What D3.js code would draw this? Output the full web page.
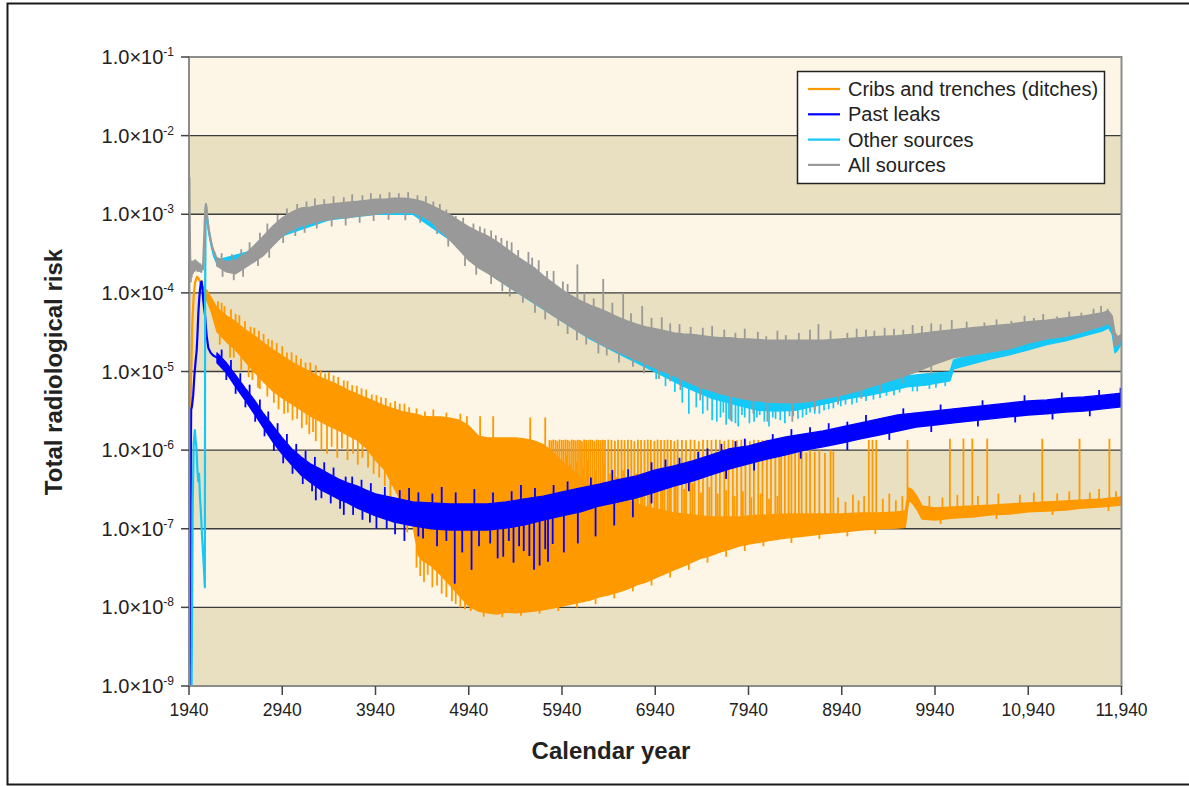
<!DOCTYPE html>
<html><head><meta charset="utf-8">
<script src="https://cdn.jsdelivr.net/npm/d3@7"></script>
<style>body{margin:0;background:#fff;}svg{display:block;font-family:"Liberation Sans",Arial,sans-serif;}</style>
</head><body><svg id="c" width="1189" height="786"></svg>
<script>
// ---------------- DATA ----------------
const xTicks = [1940,2940,3940,4940,5940,6940,7940,8940,9940,10940,11940];
const xTickLabels = ["1940","2940","3940","4940","5940","6940","7940","8940","9940","10,940","11,940"];
const yExponents = [-1,-2,-3,-4,-5,-6,-7,-8,-9];
const seriesNames = ["Cribs and trenches (ditches)","Past leaks","Other sources","All sources"];
const seriesColors = ["#ff9900","#0000ff","#14c8f8","#999999"];

// Cribs and trenches: early line [year,value], noisy band [year,lo,hi], spikes [year,value]
const cribsEarly = [[1952,1e-9],[1957,5e-7],[1963,8e-6],[1975,4e-5],[1990,9e-5],[2005,1.35e-4],[2025,1.6e-4],[2045,1.5e-4],[2070,1.3e-4],[2095,1.15e-4],[2115,1.05e-4],[2130,9.5e-5]];
const cribsBand = [[2130,8.1e-5,1.09e-4],[2180,5.7e-5,8.6e-5],[2240,3.2e-5,6.45e-5],[2340,2.4e-5,5.1e-5],[2440,1.88e-5,4.3e-5],[2540,1.36e-5,3.4e-5],[2640,9.9e-6,2.85e-5],[2740,7.4e-6,2.3e-5],[2840,5.66e-6,1.88e-5],[2940,4.6e-6,1.58e-5],[3040,3.9e-6,1.32e-5],[3140,3.25e-6,1.14e-5],[3240,2.72e-6,9.9e-6],[3340,2.35e-6,8.5e-6],[3440,2.03e-6,7.6e-6],[3540,1.8e-6,6.75e-6],[3640,1.56e-6,5.8e-6],[3740,1.35e-6,5.2e-6],[3840,1.07e-6,4.6e-6],[3940,7.5e-7,4.1e-6],[4040,5.6e-7,3.65e-6],[4140,3.3e-7,3.35e-6],[4240,2.0e-7,3.06e-6],[4340,1.12e-7,2.9e-6],[4400,4.6e-8,2.8e-6],[4440,4.0e-8,2.7e-6],[4540,3.36e-8,2.65e-6],[4640,2.58e-8,2.65e-6],[4740,1.93e-8,2.55e-6],[4840,1.4e-8,2.4e-6],[4940,1.04e-8,2.03e-6],[5040,9.0e-9,1.52e-6],[5140,8.5e-9,1.43e-6],[5240,8.2e-9,1.43e-6],[5340,8.7e-9,1.43e-6],[5440,8.5e-9,1.43e-6],[5540,8.7e-9,1.39e-6],[5640,9.0e-9,1.31e-6],[5740,9.3e-9,1.17e-6],[5840,9.8e-9,9.5e-7],[5940,1.04e-8,7.1e-7],[6040,1.1e-8,5.6e-7],[6140,1.17e-8,4.55e-7],[6240,1.24e-8,3.83e-7],[6340,1.36e-8,3.3e-7],[6440,1.44e-8,2.85e-7],[6540,1.57e-8,2.54e-7],[6640,1.71e-8,2.26e-7],[6740,1.93e-8,2.07e-7],[6840,2.1e-8,1.9e-7],[6940,2.37e-8,1.79e-7],[7040,2.66e-8,1.68e-7],[7140,2.99e-8,1.59e-7],[7240,3.36e-8,1.54e-7],[7340,3.78e-8,1.5e-7],[7440,4.25e-8,1.46e-7],[7540,4.6e-8,1.41e-7],[7640,5.1e-8,1.41e-7],[7740,5.5e-8,1.41e-7],[7840,6.0e-8,1.41e-7],[7940,6.4e-8,1.46e-7],[8140,7.0e-8,1.5e-7],[8340,7.6e-8,1.54e-7],[8540,8.1e-8,1.54e-7],[8740,8.6e-8,1.54e-7],[8940,9.1e-8,1.54e-7],[9140,9.65e-8,1.59e-7],[9340,1.0e-7,1.59e-7],[9540,1.02e-7,1.64e-7],[9620,1.04e-7,1.68e-7],[9660,2.33e-7,3.3e-7],[9700,2.1e-7,3.1e-7],[9750,1.73e-7,2.54e-7],[9800,1.33e-7,1.95e-7],[9940,1.29e-7,1.84e-7],[10140,1.37e-7,1.9e-7],[10340,1.41e-7,1.95e-7],[10540,1.5e-7,2.0e-7],[10740,1.54e-7,2.07e-7],[10940,1.64e-7,2.13e-7],[11140,1.68e-7,2.2e-7],[11340,1.73e-7,2.26e-7],[11540,1.84e-7,2.32e-7],[11740,1.9e-7,2.4e-7],[11940,2.0e-7,2.54e-7]];
const cribsSpikes = [
[2250,7.8e-5],[2290,7.5e-5],[2320,6.8e-5],[2390,6.2e-5],[2440,5.4e-5],[2480,5.2e-5],[2540,4.4e-5],[2600,3.7e-5],[2640,3.6e-5],[2690,3.3e-5],[2740,3.0e-5],[2790,2.6e-5],[2830,2.5e-5],[2880,2.3e-5],[2940,2.1e-5],[2990,1.75e-5],[3040,1.75e-5],[3090,1.6e-5],[3140,1.45e-5],[3190,1.3e-5],[3240,1.3e-5],[3300,1.2e-5],[3350,1.05e-5],[3400,9.4e-6],[3440,9.8e-6],[3490,8.9e-6],[3540,8.5e-6],[3600,7.7e-6],[3640,7.6e-6],[3690,6.7e-6],[3740,6.6e-6],[3790,6.1e-6],[3840,5.9e-6],[3900,5.1e-6],[3950,5.0e-6],[4000,4.7e-6],[4050,4.6e-6],[4100,4.0e-6],[4150,4.2e-6],[4200,3.9e-6],[4250,3.9e-6],[4300,3.5e-6],
[2270,2.2e-5],[2380,1.5e-5],[2420,1.5e-5],[2500,1.05e-5],[2580,8.5e-6],[2620,7.8e-6],[2680,6.2e-6],[2700,6e-6],[2780,4.8e-6],[2850,4.0e-6],[2900,3.3e-6],[2960,2.9e-6],[3000,3.0e-6],[3050,2.4e-6],[3100,2.5e-6],[3150,1.9e-6],[3200,2.1e-6],[3230,1.6e-6],[3270,1.7e-6],[3300,1.3e-6],[3360,1.0e-6],[3420,9e-7],[3470,1.1e-6],[3530,8e-7],[3580,1.05e-6],[3640,7.5e-7],[3700,9e-7],[3750,6.5e-7],[3800,8e-7],[3860,6e-7],[3920,5e-7],[3980,4.5e-7],[4040,3.5e-7],[4100,2.5e-7],[4190,1.5e-7],[4280,9e-8],
[4380,3.2e-8],[4420,2.5e-8],[4460,2.1e-8],[4500,2.6e-8],[4550,1.8e-8],[4600,1.9e-8],[4650,1.5e-8],[4700,1.35e-8],[4760,1.2e-8],[4800,1.1e-8],[4850,1.0e-8],[4900,9.5e-9],[4960,9.0e-9],
[5100,7.6e-9],[5300,7.5e-9],[5500,7.8e-9],[5700,8.3e-9],[5900,9e-9],[6100,1.0e-8],[6300,1.1e-8],[6500,1.3e-8],[6700,1.6e-8],[6900,1.9e-8],[7100,2.4e-8],[7300,3.0e-8],[7500,3.7e-8],[7700,4.4e-8],[7900,5.2e-8],[8100,6.0e-8],[8400,6.6e-8],[8700,7.4e-8],[9000,8.0e-8],[9300,8.6e-8],[10000,1.15e-7],[10600,1.33e-7],[11200,1.5e-7],[11800,1.68e-7],
[4380,3.4e-6],[4470,3.1e-6],[4560,3.3e-6],[4700,3.0e-6],[4850,2.9e-6],[4920,2.7e-6],[5062,2.7e-6],[5202,2.7e-6],[5599,2.6e-6],[5760,2.6e-6],
[5805,1.35e-6],[5826,1.33e-6],[5846,1.36e-6],[5870,1.35e-6],[5891,1.3e-6],[5912,1.36e-6],[5936,1.35e-6],[5957,1.34e-6],[5979,1.36e-6],[6001,1.35e-6],[6022,1.31e-6],[6045,1.36e-6],[6066,1.35e-6],[6088,1.33e-6],[6111,1.36e-6],[6133,1.35e-6],[6154,1.3e-6],[6177,1.36e-6],[6199,1.35e-6],[6222,1.34e-6],[6243,1.36e-6],[6266,1.35e-6],[6288,1.3e-6],[6311,1.36e-6],[6333,1.35e-6],[6356,1.34e-6],[6379,1.36e-6],[6401,1.35e-6],
[6436,1.36e-6],[6470,1.35e-6],[6507,1.31e-6],[6541,1.36e-6],[6578,1.35e-6],[6611,1.34e-6],[6647,1.36e-6],[6683,1.35e-6],[6716,1.3e-6],[6754,1.36e-6],[6788,1.35e-6],[6825,1.34e-6],[6860,1.36e-6],[6893,1.35e-6],[6931,1.31e-6],[6965,1.36e-6],[7001,1.35e-6],[7038,1.34e-6],[7072,1.36e-6],[7108,1.35e-6],[7145,1.3e-6],[7180,1.36e-6],
[7226,1.35e-6],[7270,1.34e-6],[7318,1.36e-6],[7361,1.35e-6],[7407,1.3e-6],[7452,1.36e-6],[7499,1.35e-6],[7543,1.34e-6],[7590,1.36e-6],[7633,1.35e-6],[7681,1.31e-6],[7725,1.36e-6],[7772,1.35e-6],[7816,1.34e-6],[7863,1.36e-6],[7907,1.35e-6],[7954,1.3e-6],[7998,1.36e-6],[8045,1.35e-6],[8090,1.34e-6],[8138,1.36e-6],[8181,1.35e-6],[8228,1.31e-6],[8270,1.35e-6],
[5815,9e-7],[5858,8e-7],[5925,7.5e-7],[5990,8.5e-7],[6035,6.5e-7],[6100,7e-7],[6165,6e-7],[6210,7.5e-7],[6300,5.5e-7],[6390,6.5e-7],[6455,5e-7],[6525,4.5e-7],[6595,5.5e-7],[6665,4.2e-7],[6735,5e-7],[6805,3.8e-7],[6880,4.5e-7],[6950,3.6e-7],[7020,4.2e-7],[7090,3.3e-7],[7160,4e-7],[7250,3.2e-7],[7340,3.8e-7],[7430,2.9e-7],[7520,3.4e-7],[7610,2.8e-7],[7700,3.1e-7],[7790,2.6e-7],[7880,3.0e-7],[7970,2.5e-7],[8070,2.8e-7],[8160,2.4e-7],[8250,2.6e-7],
[8290,1.0e-6],[8330,9.5e-7],[8370,1.0e-6],[8400,9.2e-7],[8440,1.0e-6],[8480,9.6e-7],[8510,1.0e-6],[8560,9.3e-7],[8600,1.0e-6],[8650,9.5e-7],[8700,1.0e-6],[8760,9.2e-7],[8820,1.0e-6],[8850,9.6e-7],
[9230,1.35e-6],[9270,1.35e-6],[9310,1.35e-6],[9645,1.35e-6],[10100,1.4e-6],[10245,1.4e-6],[10340,1.4e-6],[10500,1.4e-6],[11090,1.4e-6],[11490,1.4e-6],[11810,1.4e-6],
[8900,2.5e-7],[8980,2.2e-7],[9060,2.7e-7],[9120,2.3e-7],[9180,2.6e-7],[9380,2.4e-7],[9450,2.8e-7],[9520,2.3e-7],[9590,2.6e-7],
[9880,2.6e-7],[10020,2.5e-7],[10180,2.7e-7],[10400,2.6e-7],[10620,2.8e-7],[10850,2.7e-7],[11000,2.9e-7],[11250,2.8e-7],[11380,3.0e-7],[11600,2.9e-7],[11700,3.2e-7],[11880,3.0e-7]];

// Past leaks
const leaksEarly = [[1948,1e-9],[1953,1e-8],[1958,4e-7],[1963,3.3e-6],[1972,3.6e-6],[1985,5e-6],[1998,9e-6],[2012,1.4e-5],[2023,1.9e-5],[2032,3.2e-5],[2040,5.5e-5],[2050,8.5e-5],[2058,1.1e-4],[2068,1.35e-4],[2076,1.4e-4],[2085,1.1e-4],[2093,8e-5],[2102,6.5e-5],[2112,5.2e-5],[2122,3.6e-5],[2130,2.8e-5],[2147,2.0e-5],[2170,1.75e-5],[2200,1.6e-5],[2240,1.5e-5]];
const leaksBand = [[2240,1.29e-5,1.72e-5],[2340,9.6e-6,1.29e-5],[2440,6.4e-6,9.0e-6],[2540,4.35e-6,6.2e-6],[2640,2.9e-6,4.35e-6],[2740,1.92e-6,2.9e-6],[2840,1.27e-6,2.03e-6],[2940,8.9e-7,1.43e-6],[3040,6.5e-7,1.04e-6],[3140,4.85e-7,8.2e-7],[3240,3.9e-7,6.7e-7],[3340,3.2e-7,5.8e-7],[3440,2.77e-7,5.0e-7],[3540,2.4e-7,4.3e-7],[3640,2.13e-7,3.83e-7],[3740,1.84e-7,3.5e-7],[3840,1.64e-7,3.1e-7],[3940,1.46e-7,2.77e-7],[4140,1.22e-7,2.47e-7],[4340,1.09e-7,2.19e-7],[4540,1.0e-7,2.13e-7],[4740,9.65e-8,2.07e-7],[4940,9.65e-8,2.07e-7],[5140,9.65e-8,2.07e-7],[5340,1.02e-7,2.19e-7],[5540,1.12e-7,2.4e-7],[5740,1.29e-7,2.6e-7],[5940,1.46e-7,2.93e-7],[6140,1.64e-7,3.3e-7],[6340,1.95e-7,3.7e-7],[6540,2.19e-7,4.2e-7],[6740,2.47e-7,4.7e-7],[6940,2.93e-7,5.6e-7],[7140,3.5e-7,6.3e-7],[7340,4.05e-7,7.3e-7],[7540,4.85e-7,8.7e-7],[7740,5.8e-7,1.04e-6],[7940,6.7e-7,1.13e-6],[8140,7.7e-7,1.31e-6],[8340,8.7e-7,1.47e-6],[8540,1.0e-6,1.61e-6],[8740,1.1e-6,1.75e-6],[8940,1.23e-6,1.97e-6],[9140,1.39e-6,2.22e-6],[9340,1.56e-6,2.5e-6],[9540,1.75e-6,2.8e-6],[9740,1.97e-6,2.97e-6],[9940,2.09e-6,3.15e-6],[10140,2.22e-6,3.35e-6],[10340,2.36e-6,3.55e-6],[10540,2.5e-6,3.76e-6],[10740,2.65e-6,3.98e-6],[10940,2.8e-6,4.22e-6],[11140,2.9e-6,4.35e-6],[11340,3.06e-6,4.6e-6],[11540,3.15e-6,4.75e-6],[11740,3.35e-6,5.0e-6],[11940,3.55e-6,5.3e-6]];
const leaksSpikes = [[3300,2.3e-7],[3600,1.5e-7],[3950,1.0e-7],[4150,8.5e-8],[4250,7e-8],[4400,8e-8],[4450,7.5e-8],[4600,6e-8],[4700,7e-8],[4790,2.0e-8],[4870,5e-8],[4970,3.0e-8],[5050,6e-8],[5170,6.5e-8],[5250,4.2e-8],[5310,4.4e-8],[5370,7e-8],[5420,3.7e-8],[5480,6e-8],[5530,5.2e-8],[5590,4.5e-8],[5640,3.0e-8],[5700,3.4e-8],[5760,5.5e-8],[5790,3.8e-8],[5840,6.4e-8],[5960,5.0e-8],[6110,6.5e-8],[6300,8.0e-8],[6500,1.1e-7],[6700,1.4e-7],
[3620,4.6e-7],[4300,3.3e-7],[4650,3.4e-7],[5000,3.2e-7],[5500,3.6e-7],[6000,4.0e-7],[6480,5.6e-7],[6900,7e-7],[7200,8e-7],[7500,1.05e-6],[7800,1.3e-6],[8200,1.6e-6],[8600,1.95e-6],[9000,2.3e-6],
[2290,1.9e-5],[2390,1.4e-5],[2490,9.5e-6],[2590,6.8e-6],[2700,4.4e-6],[2790,3.1e-6],[2890,2.2e-6],[2990,1.6e-6],[3090,1.2e-6],[3190,9.8e-7],[3290,8.2e-7],[3390,7e-7],[3490,6.0e-7],[3690,4.6e-7],[3790,4.2e-7],[3890,3.8e-7],[4040,3.4e-7],[4200,3.1e-7],[4400,2.9e-7],[4550,2.8e-7],[4800,2.9e-7],[5200,2.9e-7],[5400,3.0e-7],[5650,3.3e-7],[5850,3.6e-7],[6250,4.5e-7],[6650,5.7e-7],[7050,7.6e-7],[7400,9.5e-7],[7650,1.2e-6],[7900,1.4e-6],[8400,1.85e-6],[8800,2.2e-6],[9200,2.8e-6],[9600,3.4e-6],[10000,3.8e-6],[10450,4.3e-6],[10900,5.0e-6],[11300,5.4e-6],[11700,5.8e-6],[11930,6.2e-6],
[2340,7.8e-6],[2440,5.2e-6],[2545,3.5e-6],[2650,2.3e-6],[2750,1.5e-6],[2850,9.8e-7],[2950,6.8e-7],[3050,5e-7],[3160,3.7e-7],[3260,3.0e-7],[3360,2.45e-7],[3460,2.1e-7],[3560,1.8e-7],[3700,1.5e-7],[3800,1.3e-7],[3880,1.2e-7],[4060,1.0e-7],[6900,2.1e-7],[7300,3.0e-7],[7700,4.3e-7],[8000,5.5e-7],[8500,7.8e-7],[9000,1.0e-6],[9450,1.35e-6],[9900,1.7e-6],[10400,2.0e-6],[10800,2.25e-6],[11200,2.45e-6],[11600,2.7e-6]];

// Other sources
const otherEarly = [[1968,1e-9],[1980,2e-7],[1990,1.2e-6],[2003,1.8e-6],[2012,1.3e-6],[2022,1.0e-6],[2030,5.5e-7],[2040,4e-7],[2048,5e-7],[2058,2.5e-7],[2068,1.6e-7],[2080,8e-8],[2095,4e-8],[2110,1.8e-8],[2113,1e-4],[2118,1e-3],[2122,1.3e-3],[2135,9e-4],[2150,6.5e-4],[2165,5e-4],[2185,3.8e-4],[2205,3.0e-4],[2240,2.4e-4]];
const otherBand = [[2240,2.2e-4,2.6e-4],[2640,2.5e-4,3.5e-4],[2940,5.3e-4,8e-4],[3440,8.5e-4,1.2e-3],[3940,1.0e-3,1.4e-3],[4340,1.0e-3,1.4e-3],[4740,4.7e-4,8e-4],[5240,1.5e-4,3.5e-4],[5740,6.2e-5,1.4e-4],[6240,2.6e-5,5e-5],[6540,1.7e-5,3.5e-5],[6940,9.9e-6,2.5e-5],[7240,6.5e-6,2e-5],[7540,4.6e-6,1.8e-5],[7840,3.7e-6,1.6e-5],[8040,3.2e-6,1.5e-5],[8240,3.15e-6,1.5e-5],[8440,3.2e-6,1.5e-5],[8640,3.6e-6,1.5e-5],[8840,4.1e-6,1.6e-5],[9040,4.6e-6,1.7e-5],[9240,5.0e-6,1.8e-5],[9440,5.6e-6,1.9e-5],[9640,6.4e-6,8.8e-6],[9840,6.7e-6,9.3e-6],[10100,7.6e-6,9.9e-6],[10140,1.08e-5,1.4e-5],[10340,1.25e-5,1.63e-5],[10540,1.45e-5,1.8e-5],[10740,1.63e-5,2.05e-5],[10940,1.88e-5,2.3e-5],[11140,2.2e-5,2.6e-5],[11340,2.45e-5,2.8e-5],[11540,2.85e-5,3.25e-5],[11740,3.3e-5,3.8e-5],[11800,3.6e-5,4.1e-5],[11840,3.0e-5,3.6e-5],[11870,1.73e-5,2.1e-5],[11900,1.88e-5,2.2e-5],[11940,2.3e-5,2.75e-5]];
const otherSpikes = [[6950,8e-6],[7050,6.5e-6],[7150,5.5e-6],[7230,4.0e-6],[7300,2.9e-6],[7380,3.5e-6],[7450,2.9e-6],[7500,3.2e-6],[7550,2.4e-6],[7600,2.3e-6],[7640,2.6e-6],[7670,3.0e-6],[7700,2.1e-6],[7730,2.5e-6],[7760,2.3e-6],[7800,2.2e-6],[7830,2.0e-6],[7870,2.8e-6],[7900,2.6e-6],[7950,2.2e-6],[8000,2.3e-6],[8030,2.6e-6],[8060,2.8e-6],[8110,2.3e-6],[8160,2.0e-6],[8200,2.6e-6],[8230,2.5e-6],[8280,2.4e-6],[8330,2.2e-6],[8380,2.7e-6],[8420,2.7e-6],[8470,2.5e-6],[8520,2.6e-6],[8560,2.8e-6],[8600,3.0e-6],[8650,2.9e-6],[8700,2.9e-6],[8750,3.2e-6],[8800,3.3e-6],[8850,3.4e-6],[8930,3.6e-6],[8980,3.8e-6],[9050,3.8e-6],[9100,4.0e-6],[9200,4.2e-6],[9280,4.4e-6],[9350,4.6e-6],[9420,4.9e-6],[9500,5.0e-6],[9560,5.4e-6],[9700,5.6e-6],[9750,5.6e-6],[9880,6.0e-6],[9950,6.2e-6],[10050,6.5e-6]];

// All sources
const allEarly = [[1940,1e-9],[1944,2.9e-3],[1952,3e-4],[1958,1.4e-4],[1963,2.4e-4],[1968,1.6e-4],[1975,2.5e-4],[1982,1.8e-4],[1990,2.5e-4],[1998,1.9e-4],[2006,2.6e-4],[2014,2.0e-4],[2022,2.5e-4],[2030,1.9e-4],[2040,2.4e-4],[2050,1.9e-4],[2060,2.3e-4],[2070,1.85e-4],[2080,2.2e-4],[2090,2.0e-4],[2103,5e-4],[2112,1.0e-3],[2122,1.35e-3],[2135,9e-4],[2150,6.5e-4],[2165,5.2e-4],[2185,4.0e-4],[2201,3.5e-4],[2220,3.1e-4],[2240,2.6e-4]];
const allBand = [[2240,2.2e-4,2.8e-4],[2340,1.85e-4,2.5e-4],[2440,1.75e-4,2.6e-4],[2540,2.1e-4,3.1e-4],[2640,2.5e-4,4.0e-4],[2740,3.0e-4,5.3e-4],[2840,4.0e-4,7.1e-4],[2940,5.3e-4,9.0e-4],[3040,6.3e-4,1.06e-3],[3140,7.1e-4,1.2e-3],[3240,7.6e-4,1.23e-3],[3340,8.2e-4,1.3e-3],[3440,8.5e-4,1.34e-3],[3540,9.0e-4,1.38e-3],[3640,9.0e-4,1.42e-3],[3740,9.5e-4,1.46e-3],[3840,9.8e-4,1.5e-3],[3940,1.0e-3,1.55e-3],[4040,1.04e-3,1.55e-3],[4140,1.04e-3,1.6e-3],[4240,1.06e-3,1.6e-3],[4340,1.04e-3,1.55e-3],[4440,9.5e-4,1.46e-3],[4540,8.0e-4,1.3e-3],[4640,6.1e-4,1.13e-3],[4740,4.7e-4,9.8e-4],[4840,3.5e-4,8.2e-4],[4940,2.6e-4,6.9e-4],[5040,2.1e-4,6.0e-4],[5140,1.8e-4,5.3e-4],[5240,1.5e-4,4.5e-4],[5340,1.26e-4,3.7e-4],[5440,1.06e-4,3.0e-4],[5540,8.9e-5,2.5e-4],[5640,7.5e-5,2.1e-4],[5740,6.3e-5,1.65e-4],[5840,5.2e-5,1.34e-4],[5940,4.4e-5,1.09e-4],[6040,3.7e-5,9.2e-5],[6140,3.1e-5,7.9e-5],[6240,2.7e-5,7.0e-5],[6340,2.3e-5,6.3e-5],[6440,2.0e-5,5.6e-5],[6540,1.78e-5,4.9e-5],[6640,1.58e-5,4.4e-5],[6740,1.4e-5,4.0e-5],[6840,1.25e-5,3.7e-5],[6940,1.1e-5,3.5e-5],[7040,9.9e-6,3.3e-5],[7140,8.8e-6,3.1e-5],[7240,7.8e-6,3.0e-5],[7340,6.9e-6,2.95e-5],[7440,6.2e-6,2.85e-5],[7540,5.7e-6,2.75e-5],[7640,5.2e-6,2.7e-5],[7740,4.9e-6,2.7e-5],[7840,4.6e-6,2.6e-5],[7940,4.35e-6,2.6e-5],[8140,4.1e-6,2.5e-5],[8340,4.0e-6,2.5e-5],[8540,4.1e-6,2.5e-5],[8740,4.5e-6,2.5e-5],[8940,5.0e-6,2.6e-5],[9140,5.8e-6,2.7e-5],[9340,6.9e-6,2.8e-5],[9540,8.2e-6,2.85e-5],[9740,9.9e-6,3.0e-5],[9940,1.24e-5,3.2e-5],[10140,1.5e-5,3.4e-5],[10340,1.63e-5,3.6e-5],[10540,1.78e-5,3.8e-5],[10740,1.94e-5,4.0e-5],[10940,2.3e-5,4.3e-5],[11140,2.6e-5,4.5e-5],[11340,2.8e-5,4.8e-5],[11540,3.25e-5,5.1e-5],[11740,3.8e-5,5.6e-5],[11800,4.1e-5,5.9e-5],[11840,3.6e-5,5.1e-5],[11870,2.1e-5,3.1e-5],[11900,2.2e-5,2.75e-5],[11940,2.75e-5,3.0e-5]];
const allSpikes = [[4560,1.45e-3],[4700,1.15e-3],[4800,9.5e-4],[4990,7.6e-4],[5110,6.6e-4],[5230,5.4e-4],[5400,4.4e-4],[5580,3.3e-4],[5690,2.6e-4],[5850,1.9e-4],[6105,2.3e-4],[6382,1.5e-4],[6596,1.0e-4],[6800,6.8e-5],[7010,4.9e-5],[7200,4.0e-5],[7550,3.8e-5],[7800,3.1e-5],[8130,2.8e-5],[8340,2.9e-5],[8690,4.0e-5],[9000,3.1e-5],[9200,3.4e-5],[9290,3.3e-5],[9600,3.4e-5],[10120,4.5e-5],[10470,4.2e-5],[10760,4.4e-5],[11000,4.8e-5],[11250,5.0e-5],[11510,5.6e-5],[11790,6.3e-5],
[2290,3.2e-4],[2400,3.1e-4],[2500,3.6e-4],[2590,4.4e-4],[2700,5.8e-4],[2780,7.6e-4],[2890,9.8e-4],[2990,1.18e-3],[3100,1.35e-3],[3200,1.45e-3],[3290,1.6e-3],[3390,1.55e-3],[3490,1.7e-3],[3600,1.65e-3],[3690,1.8e-3],[3800,1.75e-3],[3890,1.85e-3],[3990,1.8e-3],[4090,1.9e-3],[4190,1.85e-3],[4290,1.9e-3],[4390,1.75e-3],[4480,1.7e-3],[4630,1.35e-3],[4880,9e-4],[5060,7e-4],[5180,6.2e-4],[5290,5e-4],[5350,4.6e-4],[5470,3.5e-4],[5620,2.8e-4],[5780,1.9e-4],[5950,1.4e-4],[6000,1.3e-4],[6180,1.0e-4],[6280,8.5e-5],[6480,7.5e-5],[6680,5.5e-5],[6900,4.8e-5],[7100,4.1e-5],[7320,3.7e-5],[7450,3.6e-5],[7680,3.4e-5],[7900,3.5e-5],[8040,3.2e-5],[8250,3.3e-5],[8480,3.1e-5],[8600,3.4e-5],[8820,3.3e-5],[9100,3.5e-5],[9400,3.6e-5],[9500,3.5e-5],[9700,3.9e-5],[9800,3.8e-5],[9900,4.1e-5],[10000,4.0e-5],[10280,4.3e-5],[10600,4.6e-5],[10900,5.1e-5],[11100,5.4e-5],[11380,5.8e-5],[11640,6.3e-5],[11720,6.8e-5],
[2300,1.6e-4],[2420,1.45e-4],[2520,1.6e-4],[2680,2.2e-4],[2800,2.8e-4],[2950,4.3e-4],[3080,5.3e-4],[3180,5.8e-4],[3310,6.6e-4],[3470,7.0e-4],[3620,7.2e-4],[3770,7.8e-4],[3920,8.2e-4],[4080,8.5e-4],[4260,8.4e-4],[4420,7.8e-4],[4600,5.6e-4],[4720,3.9e-4],[4900,2.2e-4],[5020,1.7e-4],[5180,1.3e-4],[5300,1.05e-4],[5380,9e-5],[5520,7.5e-5],[5650,5.6e-5],[5760,4.6e-5],[5900,3.8e-5],[6000,3e-5],[6100,2.5e-5],[6200,2.2e-5],[6330,1.7e-5],[6420,1.6e-5],[6550,1.3e-5],[6700,1.15e-5],[6820,9.5e-6],[6980,8e-6],[7100,7.5e-6],[7210,5.8e-6],[7423,4.3e-6],[7745,2.4e-6],[7992,2.9e-6],[8142,2.3e-6],[8410,2.3e-6],[8650,3.2e-6],[8900,3.8e-6],[9150,4.5e-6],[9350,5.5e-6],[9600,7e-6],[9900,9e-6]];

// ---------------- CHART ----------------
const svg = d3.select("#c");
const P = {l:189, r:1121.5, t:57, b:686};
const x = d3.scaleLinear().domain([1940,11940]).range([P.l,P.r]);
const y = d3.scaleLog().domain([1e-9,1e-1]).range([P.b,P.t]);

svg.append("rect").attr("x",7.5).attr("y",3.5).attr("width",1195).attr("height",781)
  .attr("fill","#fff").attr("stroke","#1a1a1a").attr("stroke-width",2);

const bandBottoms = yExponents.slice(1);
svg.append("g").selectAll("rect").data(bandBottoms).join("rect")
  .attr("x",P.l).attr("width",P.r-P.l)
  .attr("y",k=>y(Math.pow(10,k+1))).attr("height",k=>y(Math.pow(10,k))-y(Math.pow(10,k+1)))
  .attr("fill",k=>(Math.abs(k)%2===0)?"#fdf6e7":"#e9e0c1");

svg.append("g").selectAll("line").data(yExponents.filter(k=>k<-1&&k>-9)).join("line")
  .attr("x1",P.l).attr("x2",P.r).attr("y1",k=>y(Math.pow(10,k))).attr("y2",k=>y(Math.pow(10,k)))
  .attr("stroke","#3c3c3c").attr("stroke-width",1.3);

svg.append("defs").append("clipPath").attr("id","clip").append("rect")
  .attr("x",P.l).attr("y",P.t).attr("width",P.r-P.l).attr("height",P.b-P.t);
const plot = svg.append("g").attr("clip-path","url(#clip)");

function envAt(band, yr){
  let i = d3.bisector(d=>d[0]).right(band, yr) - 1;
  i = Math.max(0, Math.min(band.length-2, i));
  const a = band[i], b = band[i+1];
  const t = Math.max(0, Math.min(1, (yr-a[0])/(b[0]-a[0])));
  const L = v=>Math.log10(v);
  return {lo: Math.pow(10, L(a[1])+(L(b[1])-L(a[1]))*t), hi: Math.pow(10, L(a[2])+(L(b[2])-L(a[2]))*t)};
}

function drawSeries(color, early, band, spikes, sw){
  const g = plot.append("g");
  g.append("path").datum(band)
    .attr("d", d3.area().x(d=>x(d[0])).y0(d=>y(d[1])).y1(d=>y(d[2])))
    .attr("fill",color).attr("stroke",color).attr("stroke-width",1.4).attr("stroke-linejoin","round");
  g.append("path").datum(early)
    .attr("d", d3.line().x(d=>x(d[0])).y(d=>y(d[1])))
    .attr("fill","none").attr("stroke",color).attr("stroke-width",2.2).attr("stroke-linejoin","round");
  g.selectAll("line.sp").data(spikes).join("line")
    .attr("x1",d=>x(d[0])).attr("x2",d=>x(d[0]))
    .attr("y1",d=>{const e=envAt(band,d[0]); return y(d[1]>e.hi?e.hi:e.lo);})
    .attr("y2",d=>y(d[1]))
    .attr("stroke",color).attr("stroke-width",sw);
}
drawSeries(seriesColors[0], cribsEarly, cribsBand, cribsSpikes, 1.8);
drawSeries(seriesColors[1], leaksEarly, leaksBand, leaksSpikes, 1.8);
drawSeries(seriesColors[2], otherEarly, otherBand, otherSpikes, 1.7);
drawSeries(seriesColors[3], allEarly, allBand, allSpikes, 1.8);

svg.append("rect").attr("x",P.l).attr("y",P.t).attr("width",P.r-P.l).attr("height",P.b-P.t)
  .attr("fill","none").attr("stroke","#8c8c8c").attr("stroke-width",2);

const yAx = svg.append("g");
yExponents.forEach(k=>{
  const yy = y(Math.pow(10,k));
  yAx.append("line").attr("x1",181).attr("x2",P.l).attr("y1",yy).attr("y2",yy).attr("stroke","#444").attr("stroke-width",1.5);
  const t = yAx.append("text").attr("x",174).attr("y",yy+7).attr("text-anchor","end")
    .attr("font-size",20).attr("fill","#222");
  t.append("tspan").text("1.0×10");
  t.append("tspan").attr("dy",-8).attr("font-size",12).text(String(k));
});

const xAx = svg.append("g");
xTicks.forEach((v,i)=>{
  const xx = x(v);
  xAx.append("line").attr("x1",xx).attr("x2",xx).attr("y1",P.b).attr("y2",P.b+9).attr("stroke","#444").attr("stroke-width",1.5);
  xAx.append("text").attr("x",xx).attr("y",716).attr("text-anchor","middle").attr("font-size",17.5).attr("fill","#222").text(xTickLabels[i]);
});

svg.append("text").attr("x",611).attr("y",759).attr("text-anchor","middle")
  .attr("font-size",24).attr("font-weight","bold").attr("fill","#222").text("Calendar year");
svg.append("text").attr("transform","translate(62,372) rotate(-90)").attr("text-anchor","middle")
  .attr("font-size",24).attr("font-weight","bold").attr("fill","#222").text("Total radiological risk");

const lg = svg.append("g");
lg.append("rect").attr("x",797.5).attr("y",71.5).attr("width",307).attr("height",112)
  .attr("fill","#fff").attr("stroke","#222").attr("stroke-width",1.5);
seriesNames.forEach((n,i)=>{
  const yy = 89 + i*25.3;
  lg.append("line").attr("x1",808).attr("x2",840).attr("y1",yy).attr("y2",yy).attr("stroke",seriesColors[i]).attr("stroke-width",2.2);
  lg.append("text").attr("x",848).attr("y",yy+7).attr("font-size",20).attr("fill","#222").text(n);
});
</script></body></html>
